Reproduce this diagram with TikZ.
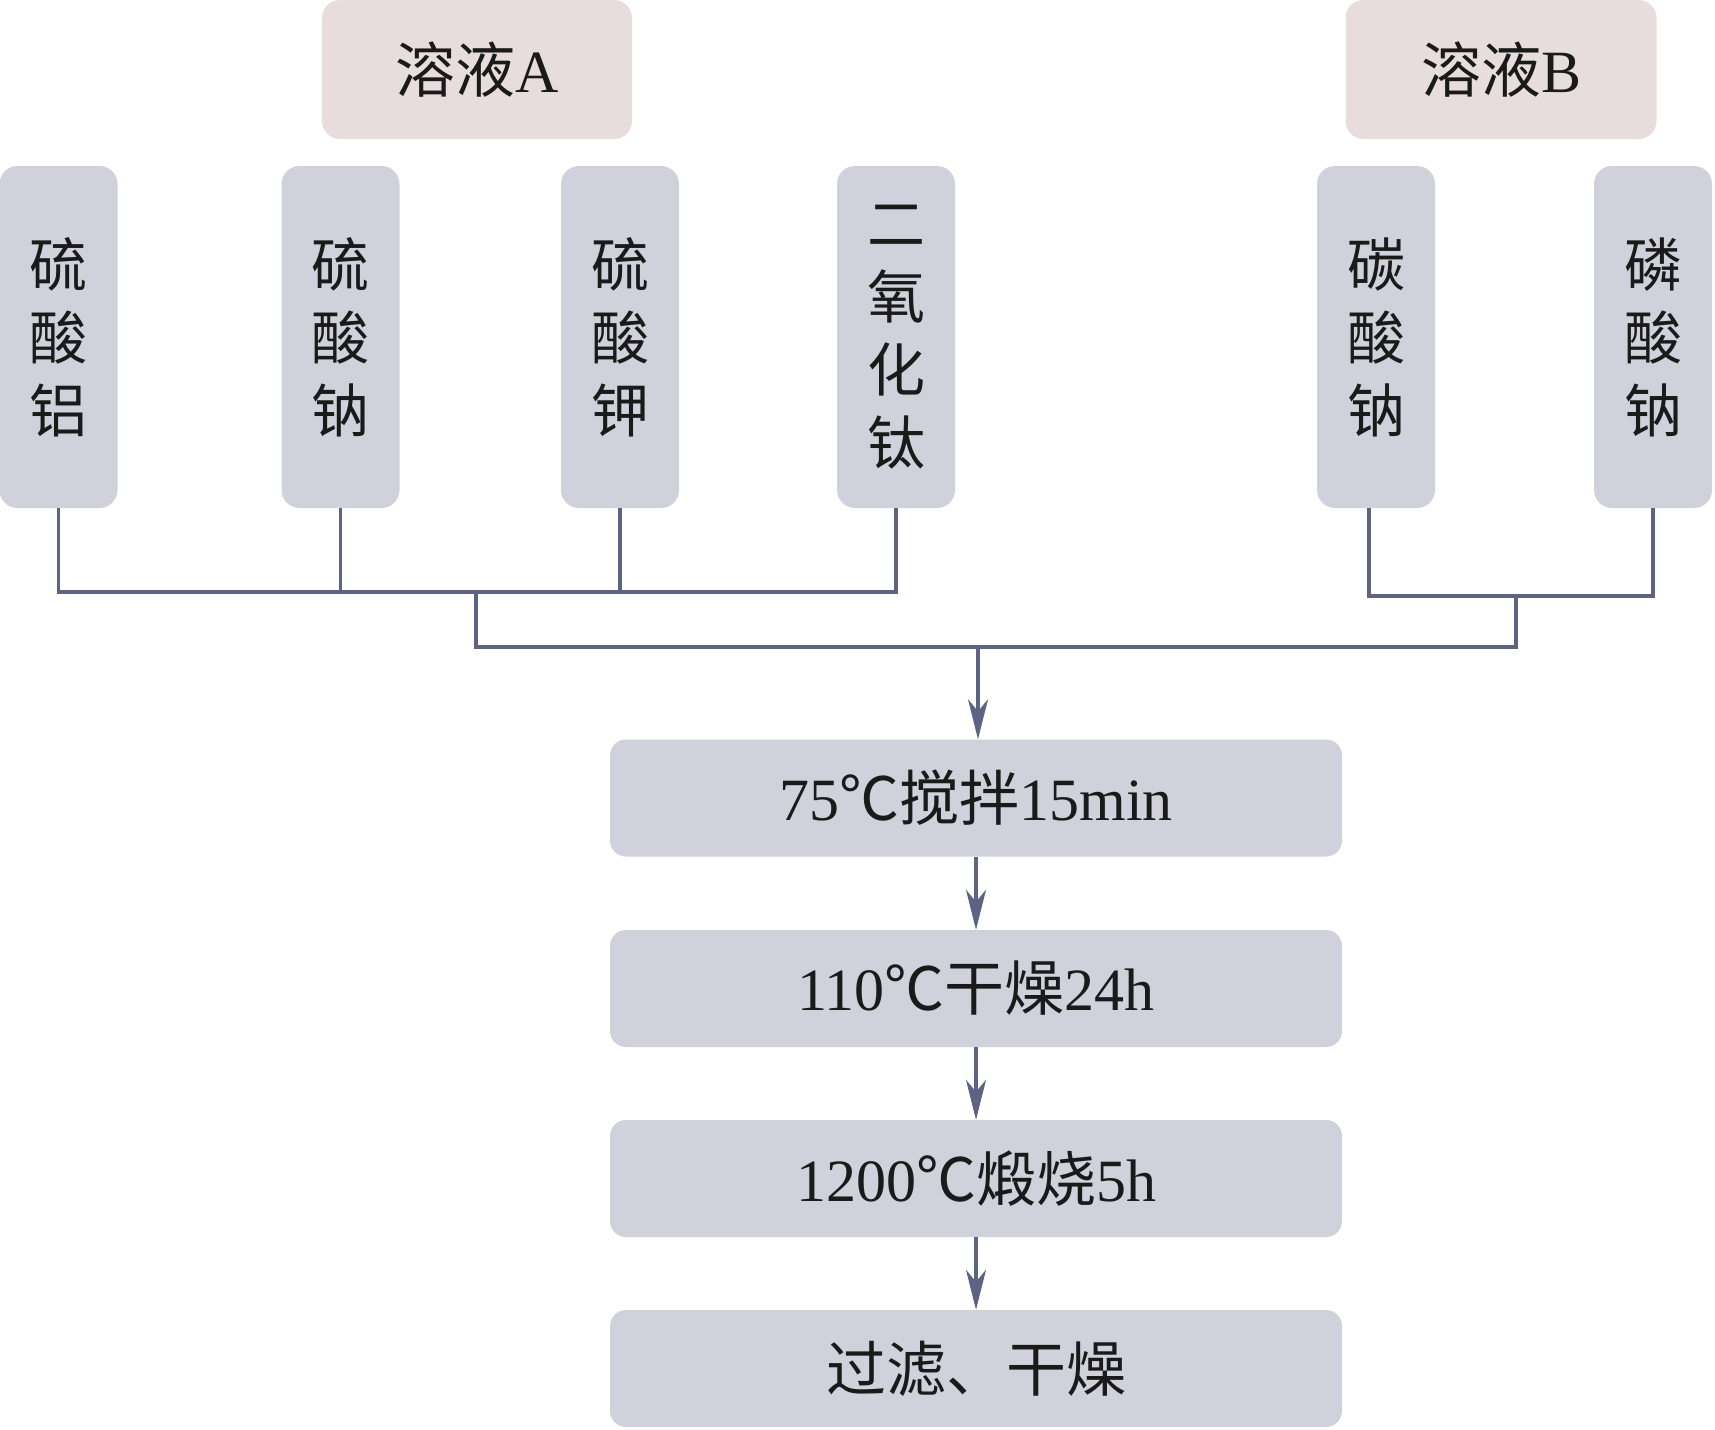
\documentclass[tikz,border=0pt]{standalone}
\usepackage{fontspec}
\setmainfont{Liberation Serif}
\newfontfamily\cjk{Noto Sans CJK SC}
\usetikzlibrary{arrows.meta}
\definecolor{boxgray}{HTML}{D0D1DA}
\definecolor{boxpink}{HTML}{E6DDDC}
\definecolor{linecol}{HTML}{5E6383}
\definecolor{txt}{HTML}{1A1A1A}
\begin{document}
\begin{tikzpicture}[x=1pt,y=-1pt,
  vbox/.style={rounded corners=18pt, fill=boxgray, minimum width=118pt, minimum height=342pt,
    inner sep=0pt, align=center, text=txt, font=\cjk\fontsize{58}{73}\selectfont},
  solbox/.style={rounded corners=18pt, fill=boxpink, minimum width=310pt, minimum height=139pt,
    inner sep=0pt, text=txt, font=\fontsize{60}{72}\selectfont},
  stepbox/.style={rounded corners=16pt, fill=boxgray, minimum width=732pt, minimum height=117pt,
    inner sep=0pt, text=txt, font=\fontsize{60}{72}\selectfont},
  conn/.style={draw=linecol, line width=3.2pt},
  arr/.style={conn, -{Stealth[length=40pt,width=20pt,inset=12pt]}}
]
\useasboundingbox (0,0) rectangle (1715,1429);

% solution labels
\node[solbox] (solA) at (477,69.5) {{\cjk 溶液}A};
\node[solbox, minimum width=311pt] (solB) at (1501,69.5) {{\cjk 溶液}B};

% reagents
\node[vbox] (al) at (58.5,337) {硫\\酸\\铝};
\node[vbox] (na) at (340.5,337) {硫\\酸\\钠};
\node[vbox] (k)  at (620,337) {硫\\酸\\钾};
\node[vbox] (ti) at (896,337) {二\\氧\\化\\钛};
\node[vbox] (cb) at (1376,337) {碳\\酸\\钠};
\node[vbox] (pb) at (1653,337) {磷\\酸\\钠};

% process steps
\node[stepbox] (s1) at (976,798) {75{\cjk ℃搅拌}15min};
\node[stepbox] (s2) at (976,988.5) {110{\cjk ℃干燥}24h};
\node[stepbox] (s3) at (976,1178.5) {1200{\cjk ℃煅烧}5h};
\node[stepbox] (s4) at (976,1368.5) {{\cjk 过滤、干燥}};

% junctions
\coordinate (jA) at (476,592);
\coordinate (jB) at (1516,596);
\coordinate (jM) at (978,647);

% connectors
\draw[conn] (al.south) |- (jA);
\draw[conn] (na.south) |- (jA);
\draw[conn] (k.south) |- (jA);
\draw[conn] (ti.south) |- (jA);
\draw[conn] ([xshift=-7pt]cb.south) |- (jB);
\draw[conn] (pb.south) |- (jB);
\draw[conn] (al.south |- jA) -- (ti.south |- jA);
\draw[conn] ([xshift=-7pt]cb.south |- jB) -- (pb.south |- jB);
\draw[conn] (jA) |- (jM);
\draw[conn] (jB) |- (jM);
\draw[arr] (jM) -- (jM |- s1.north);
\draw[arr] (s1) -- (s2);
\draw[arr] (s2) -- (s3);
\draw[arr] (s3) -- (s4);
\end{tikzpicture}
\end{document}
